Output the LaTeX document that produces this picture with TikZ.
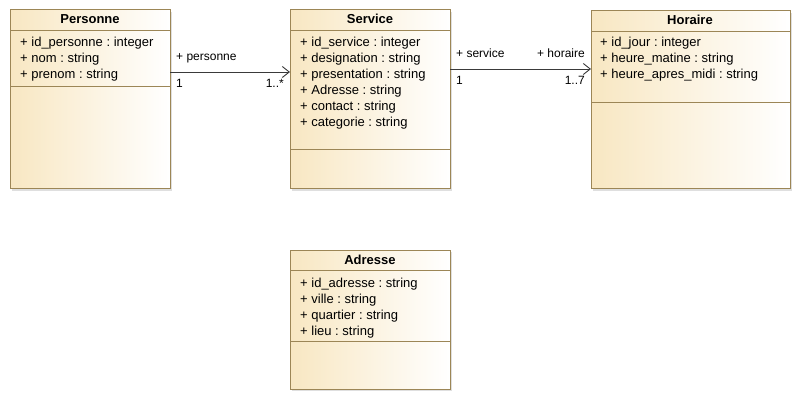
\documentclass[tikz,border=0pt]{standalone}
\usepackage{fontspec}
\setmainfont{Liberation Sans}
\usetikzlibrary{arrows.meta,shadows}
\frenchspacing
\definecolor{umlborder}{HTML}{9C8656}
\definecolor{umlfill}{HTML}{F8E7C2}
\definecolor{umlline}{HTML}{3A3A3A}
\tikzset{
  classbox/.style={draw=umlborder, line width=1pt, left color=umlfill, right color=white,
    anchor=north west, inner sep=0pt, outer sep=0pt,
    drop shadow={shadow xshift=2pt, shadow yshift=-2pt, opacity=0.25, fill=gray}},
  sep/.style={draw=umlborder, line width=0.8pt},
  title/.style={anchor=base, inner sep=0pt, font=\fontsize{13}{16}\selectfont\bfseries},
  attr/.style={anchor=base west, inner sep=0pt, font=\fontsize{13}{16}\selectfont},
  lbl/.style={anchor=base west, inner sep=0pt, font=\fontsize{12}{14}\selectfont},
  lblr/.style={anchor=base east, inner sep=0pt, font=\fontsize{12}{14}\selectfont},
  assoc/.style={draw=umlline, line width=0.9pt, -{Straight Barb[length=7pt,width=11pt]}}
}
\begin{document}
\begin{tikzpicture}[x=1pt,y=-1pt]
\useasboundingbox (0,0) rectangle (801,401);
% Personne
\node[classbox, minimum width=160pt, minimum height=179pt] (personne) at (10,10) {};
\draw[sep] (10,30) -- (170,30);
\draw[sep] (10,86) -- (170,86);
\node[title] (pt) at (90,24) {Personne};
\node[attr] (p1) at (20,47) {+ id\_personne : integer};
\node[attr] (p2) at (20,63) {+ nom : string};
\node[attr] (p3) at (20,79) {+ prenom : string};
% Service
\node[classbox, minimum width=160pt, minimum height=179pt] (service) at (290,10) {};
\draw[sep] (290,30) -- (450,30);
\draw[sep] (290,149) -- (450,149);
\node[title] (st) at (370,24) {Service};
\node[attr] (s1) at (300,47) {+ id\_service : integer};
\node[attr] (s2) at (300,63) {+ designation : string};
\node[attr] (s3) at (300,79) {+ presentation : string};
\node[attr] (s4) at (300,95) {+ Adresse : string};
\node[attr] (s5) at (300,111) {+ contact : string};
\node[attr] (s6) at (300,127) {+ categorie : string};
% Horaire
\node[classbox, minimum width=199pt, minimum height=178pt] (horaire) at (591,11) {};
\draw[sep] (591,31) -- (790,31);
\draw[sep] (591,102) -- (790,102);
\node[title] (ht) at (690,25) {Horaire};
\node[attr] (h1) at (600,47) {+ id\_jour : integer};
\node[attr] (h2) at (600,63) {+ heure\_matine : string};
\node[attr] (h3) at (600,79) {+ heure\_apres\_midi : string};
% Adresse
\node[classbox, minimum width=160pt, minimum height=139pt] (adresse) at (290,250) {};
\draw[sep] (290,270) -- (450,270);
\draw[sep] (290,341) -- (450,341);
\node[title] (at) at (370,264) {Adresse};
\node[attr] (a1) at (300,287) {+ id\_adresse : string};
\node[attr] (a2) at (300,303) {+ ville : string};
\node[attr] (a3) at (300,319) {+ quartier : string};
\node[attr] (a4) at (300,335) {+ lieu : string};
% associations
\draw[assoc] ([yshift=-62pt]personne.north east) -- ([yshift=-62pt]service.north west);
\node[lbl] (l1) at (176,61) {+ personne};
\node[lbl] (l2) at (176,88) {1};
\node[lblr] (l3) at (284,88) {1..*};
\draw[assoc] ([yshift=-59pt]service.north east) -- ([yshift=-58pt]horaire.north west);
\node[lbl] (l4) at (456,58) {+ service};
\node[lblr] (l5) at (585,58) {+ horaire};
\node[lbl] (l6) at (456,85) {1};
\node[lblr] (l7) at (585,85) {1..7};
\end{tikzpicture}
\end{document}
